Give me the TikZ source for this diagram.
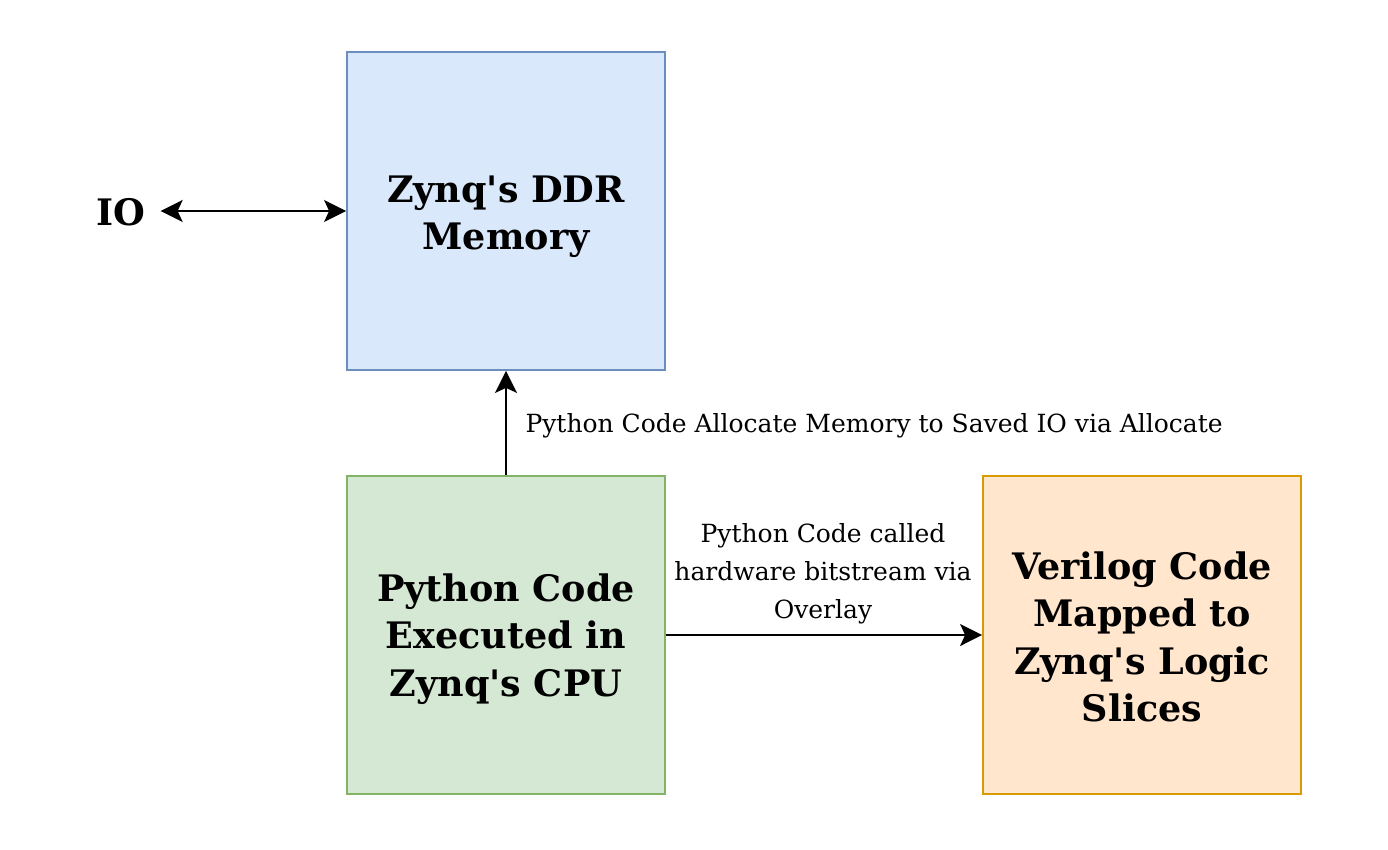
\documentclass[tikz,border=0pt]{standalone}
\usepackage{fontspec}
\setmainfont{DejaVu Serif}
\usetikzlibrary{arrows.meta}
\newcommand\apo{\textquotesingle}
\newcommand\boxtext[2]{\raisebox{#1}[\height][\depth]{\parbox{310pt}{\centering #2}}}
\begin{document}
\begin{tikzpicture}[x=1pt,y=-1pt,
  box/.style={draw, line width=1.8pt, minimum width=318pt, minimum height=318pt, inner sep=0pt,
    align=center, font=\fontsize{36.5}{47.5}\selectfont\bfseries},
  conn/.style={line width=2pt, -{Stealth[length=22pt,width=22pt,inset=5pt]}},
  lbl/.style={font=\fontsize{25}{38}\selectfont, align=center}]
\useasboundingbox (0,0) rectangle (1388,850);
\definecolor{bfill}{HTML}{DAE8FC}\definecolor{bdraw}{HTML}{6C8EBF}
\definecolor{gfill}{HTML}{D5E8D4}\definecolor{gdraw}{HTML}{82B366}
\definecolor{ofill}{HTML}{FFE6CC}\definecolor{odraw}{HTML}{D79B00}
\node[box, fill=bfill, draw=bdraw] (ddr) at (506,211) {\boxtext{-6pt}{Zynq\apo s DDR\\Memory}};
\node[box, fill=gfill, draw=gdraw] (cpu) at (506,635) {\boxtext{-4pt}{Python Code\\Executed in\\Zynq\apo s CPU}};
\node[box, fill=ofill, draw=odraw] (ver) at (1142,635) {\boxtext{-2pt}{Verilog Code\\Mapped to\\Zynq\apo s Logic\\Slices}};
\node[font=\fontsize{36.5}{40}\selectfont\bfseries, inner sep=0pt] (io) at (121,212) {IO};
\draw[line width=2pt, {Stealth[length=22pt,width=22pt,inset=5pt]}-{Stealth[length=22pt,width=22pt,inset=5pt]}] ([xshift=15pt]io.east |- ddr.west) -- (ddr.west);
\draw[conn] (cpu.north) -- (ddr.south);
\node[lbl, anchor=west] (l1) at (522,426) {Python Code Allocate Memory to Saved IO via Allocate};
\draw[conn] (cpu.east) -- (ver.west);
\node[lbl] (l2) at (823,574) {Python Code called\\hardware bitstream via\\Overlay};
\end{tikzpicture}
\end{document}
